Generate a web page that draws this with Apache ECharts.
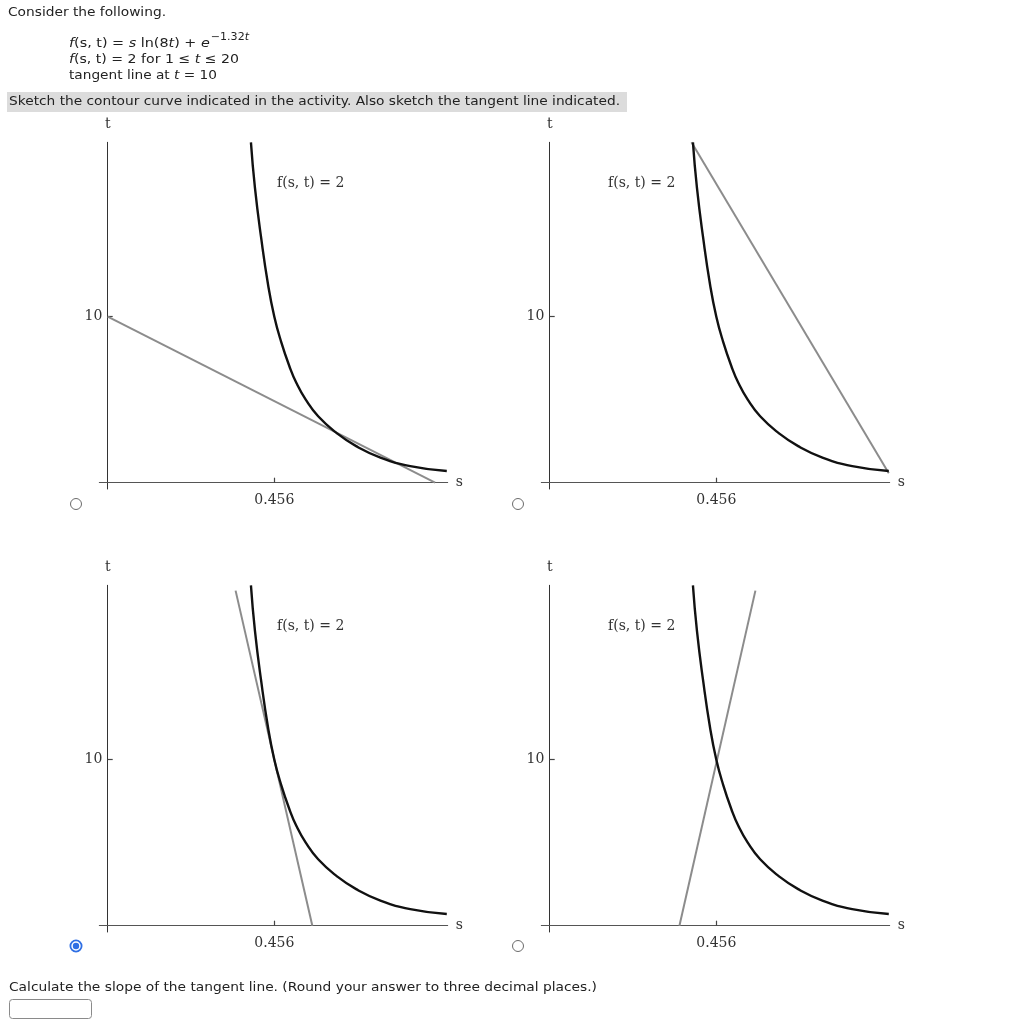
<!DOCTYPE html>
<html><head><meta charset="utf-8">
<script src="https://cdn.jsdelivr.net/npm/echarts@6/dist/echarts.min.js"></script>
<style>html,body{margin:0;padding:0;background:#fff}#main{width:1021px;height:1024px}</style>
</head><body><div id="main"></div>
<script>
// ---------- data ----------
const sTicks = [0.456];
const tTicks = [10];
// contour f(s,t)=2 (same curve in all four panels)
const contourT = [20.5, 17.75, 14.74, 11.91, 10.0, 8.5, 7.0, 6.0, 5.0, 4.0, 3.0, 2.2, 1.5, 1.0, 0.70];
const contourS = [0.392, 0.403, 0.420, 0.439, 0.456, 0.4745, 0.4975, 0.5165, 0.542, 0.576, 0.626, 0.680, 0.748, 0.828, 0.928];
// candidate tangent lines, one per panel: [s0, s1], [t0, t1]
const tangentS = [[0, 0.896], [0.388, 0.928], [0.350, 0.560], [0.355, 0.563]];
const tangentT = [[10, 0], [20.5, 0.57], [20.18, 0], [0, 20.18]];
const curveLabel = 'f(s, t) = 2';
const selectedPanel = 2;

// ---------- layout ----------
const chart = echarts.init(document.getElementById('main'), null, {renderer: 'canvas'});
const gridPos = [[99.3, 142.3], [541.3, 142.3], [99.3, 585.3], [541.3, 585.3]];
const GW = 348.4, GH = 346.7;
const SERIF = '"DejaVu Serif", serif';
const SANS = '"DejaVu Sans", Verdana, sans-serif';

const grids = [], xAxes = [], yAxes = [], series = [];
gridPos.forEach((p, i) => {
  grids.push({left: p[0], top: p[1], width: GW, height: GH, containLabel: false, outerBoundsMode: 'none'});
  xAxes.push({
    gridIndex: i, type: 'value', min: -0.023, max: 0.9305,
    axisLine: {onZero: true, lineStyle: {color: '#555', width: 1}},
    axisTick: {show: true, inside: true, length: 5, customValues: sTicks, lineStyle: {color: '#444', width: 1.2}},
    axisLabel: {customValues: sTicks, margin: 4, fontFamily: SERIF, fontSize: 14, color: '#333',
      formatter: v => String(v)},
    splitLine: {show: false},
    name: 's', nameLocation: 'end', nameGap: 8,
    nameTextStyle: {fontFamily: SERIF, fontSize: 14, color: '#333', verticalAlign: 'middle', padding: [3, 0, 0, 0]}
  });
  yAxes.push({
    gridIndex: i, type: 'value', min: -0.38, max: 20.5,
    axisLine: {onZero: true, lineStyle: {color: '#333', width: 1}},
    axisTick: {show: true, inside: true, length: 5, customValues: tTicks, lineStyle: {color: '#444', width: 1.2}},
    axisLabel: {customValues: tTicks, margin: -3, fontFamily: SERIF, fontSize: 14, color: '#333'},
    splitLine: {show: false},
    name: 't', nameLocation: 'end', nameGap: 11,
    nameTextStyle: {fontFamily: SERIF, fontSize: 14, color: '#333', align: 'center'}
  });
  series.push({
    type: 'line', xAxisIndex: i, yAxisIndex: i, showSymbol: false, silent: true,
    data: tangentS[i].map((s, k) => [s, tangentT[i][k]]),
    lineStyle: {color: '#8c8c8c', width: 2}, z: 2
  });
  series.push({
    type: 'line', xAxisIndex: i, yAxisIndex: i, showSymbol: false, silent: true,
    smooth: 0.5,
    data: contourS.map((s, k) => [s, contourT[k]]),
    lineStyle: {color: '#111', width: 2.4}, z: 3
  });
});

// ---------- text helpers ----------
const ctx = document.createElement('canvas').getContext('2d');
function fontOf(r, size) { return (r.it ? 'italic ' : '') + size + 'px ' + SANS; }
function measure(runs, size) {
  let w = 0;
  runs.forEach(r => { ctx.font = fontOf(r, size); w += ctx.measureText(r.t).width; });
  return w;
}
function place(runs, x, cy, size, sc, out) {
  let acc = 0;
  runs.forEach(r => {
    ctx.font = fontOf(r, size);
    out.push({type: 'text', x: x + acc * sc, y: cy, scaleX: sc, silent: true,
      style: {text: r.t, font: fontOf(r, size), fill: '#222', align: 'left', verticalAlign: 'middle'}});
    acc += ctx.measureText(r.t).width;
  });
  return x + acc * sc;
}
function fitLine(runs, x, cy, target, size, out) {
  const sc = target / measure(runs, size);
  place(runs, x, cy, size, sc, out);
}

const g = [];
// gray instruction band
g.push({type: 'rect', shape: {x: 7, y: 92, width: 620, height: 20}, style: {fill: '#dcdcdc'}, silent: true});
const FS = 13;
fitLine([{t: 'Consider the following.'}], 8, 13, 158, FS, g);
// formula line 1 with superscript
const l1 = [{t: 'f', it: 1}, {t: '(s, t) = '}, {t: 's', it: 1}, {t: ' ln(8'}, {t: 't', it: 1}, {t: ') + '}, {t: 'e', it: 1}];
const sup = [{t: '\u22121.32'}, {t: 't', it: 1}];
const sc1 = 179 / (measure(l1, FS) + measure(sup, 10));
const xe = place(l1, 69, 44, FS, sc1, g);
place(sup, xe + 1, 37, 10, sc1, g);
fitLine([{t: 'f', it: 1}, {t: '(s, t) = 2 for 1 \u2264 '}, {t: 't', it: 1}, {t: ' \u2264 20'}], 69, 60, 170, FS, g);
fitLine([{t: 'tangent line at '}, {t: 't', it: 1}, {t: ' = 10'}], 69, 76, 148, FS, g);
fitLine([{t: 'Sketch the contour curve indicated in the activity. Also sketch the tangent line indicated.'}], 9, 102, 611, FS, g);
fitLine([{t: 'Calculate the slope of the tangent line. (Round your answer to three decimal places.)'}], 9, 988, 588, FS, g);
// answer box
g.push({type: 'rect', shape: {x: 9.5, y: 999.5, width: 82, height: 19, r: 3}, style: {fill: '#fff', stroke: '#8a8a8a', lineWidth: 1}, silent: true});

// curve labels and radio buttons
const labelPos = [[277, 183], [608, 183], [277, 626], [608, 626]];
const radioPos = [[76, 504], [518, 504], [76, 946], [518, 946]];
labelPos.forEach((p, i) => {
  g.push({type: 'text', x: p[0], y: p[1], silent: true,
    style: {text: curveLabel, font: '14px ' + SERIF, fill: '#333', align: 'left', verticalAlign: 'middle'}});
  const r = radioPos[i];
  if (i === selectedPanel) {
    g.push({type: 'circle', shape: {cx: r[0], cy: r[1], r: 5.6}, style: {fill: '#fff', stroke: '#2f6fe4', lineWidth: 1.8}, silent: true});
    g.push({type: 'circle', shape: {cx: r[0], cy: r[1], r: 3.2}, style: {fill: '#2f6fe4'}, silent: true});
  } else {
    g.push({type: 'circle', shape: {cx: r[0], cy: r[1], r: 5.5}, style: {fill: '#fff', stroke: '#6b6b6b', lineWidth: 1}, silent: true});
  }
});

chart.setOption({
  animation: false,
  backgroundColor: '#fff',
  grid: grids, xAxis: xAxes, yAxis: yAxes, series: series,
  graphic: {elements: g}
});
</script>
</body></html>
